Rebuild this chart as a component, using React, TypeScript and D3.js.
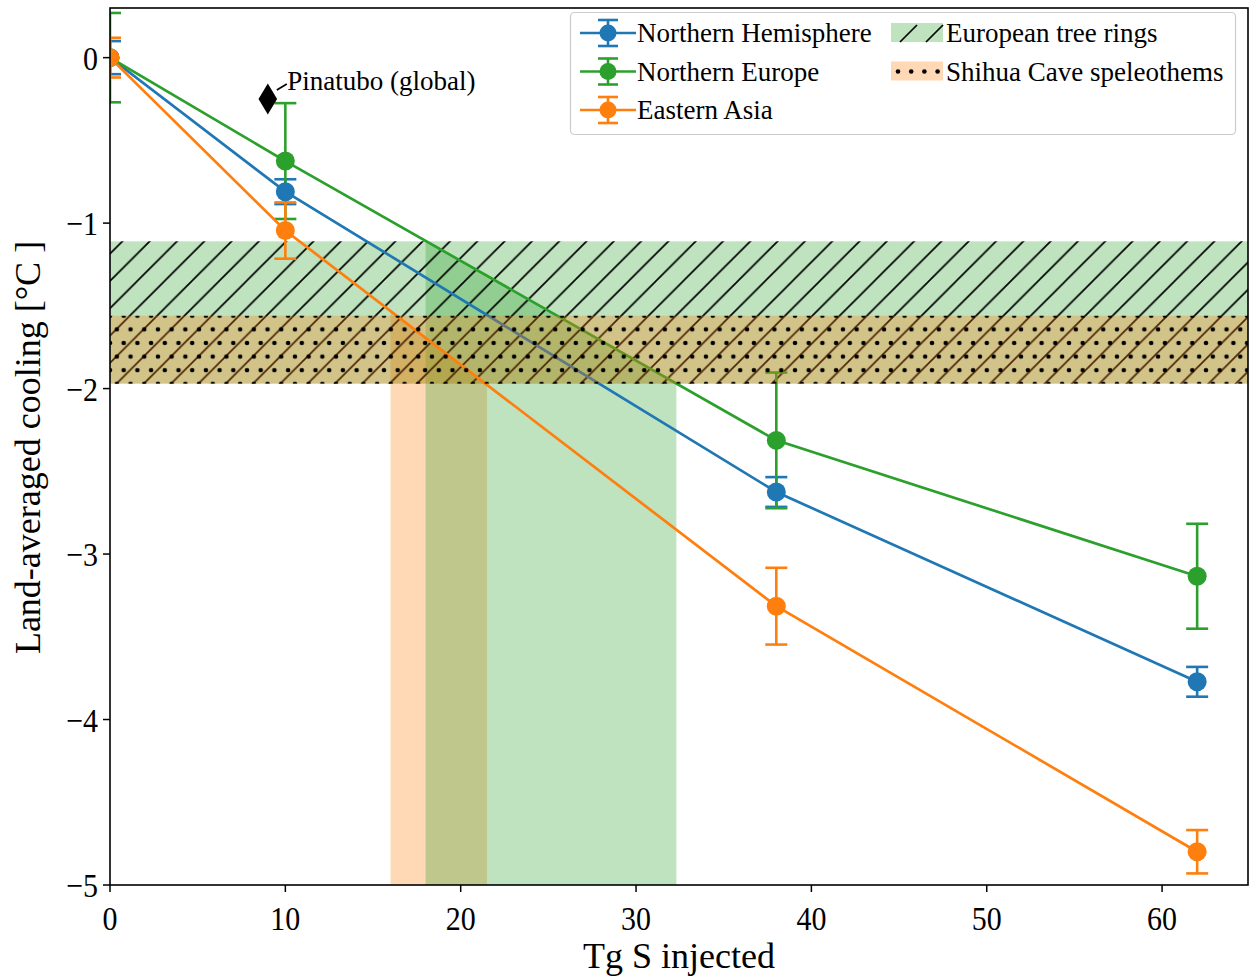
import React from 'react';
import * as d3 from 'd3';

// ---------------- data ----------------
const injectedS = [0, 10, 38, 62];
const nhMean = [0, -0.81, -2.625, -3.772];
const nhErr = [0.1, 0.075, 0.09, 0.09];
const neMean = [0, -0.625, -2.313, -3.134];
const neErr = [0.27, 0.35, 0.41, 0.317];
const eaMean = [0, -1.045, -3.315, -4.799];
const eaErr = [0.12, 0.17, 0.232, 0.131];

const pinatuboX = [9];
const pinatuboY = [-0.25];
const pinatuboLabel = 'Pinatubo (global)';

const treeRingBand = [-1.11, -1.97];
const speleoBand = [-1.56, -1.97];
const neFillRange = [18.0, 32.3];
const eaFillRange = [16.0, 21.5];

const xTicks = [0, 10, 20, 30, 40, 50, 60];
const yTicks = [0, -1, -2, -3, -4, -5];
const xLabel = 'Tg S injected';
const yLabel = 'Land-averaged cooling [°C ]';

const seriesNames = ['Northern Hemisphere', 'Northern Europe', 'Eastern Asia'];
const bandNames = ['European tree rings', 'Shihua Cave speleothems'];

const BLUE = '#1f77b4';
const ORANGE = '#ff7f0e';
const GREEN = '#2ca02c';
const FONT = "'Liberation Serif', 'Times New Roman', Times, serif";

export default function App() {
  const W = 1249;
  const H = 978;
  const L = 110, R = 1248, T = 8, B = 885;
  const x = d3.scaleLinear().domain([0, 64.9]).range([L, R]);
  const y = d3.scaleLinear().domain([-5, 0.3]).range([B, T]);

  const series = [
    { name: seriesNames[0], mean: nhMean, err: nhErr, color: BLUE },
    { name: seriesNames[1], mean: neMean, err: neErr, color: GREEN },
    { name: seriesNames[2], mean: eaMean, err: eaErr, color: ORANGE },
  ];

  const lineGen = d3
    .line<[number, number]>()
    .x((d) => x(d[0]))
    .y((d) => y(d[1]));

  const fillPath = (mean: number[], range: number[]) => {
    const interp = d3.scaleLinear().domain(injectedS).range(mean);
    const xs = [range[0], ...injectedS.filter((v) => v > range[0] && v < range[1]), range[1]];
    const area = d3
      .area<number>()
      .x((v) => x(v))
      .y0(() => y(-5))
      .y1((v) => y(interp(v)));
    return area(xs) || '';
  };

  const capHalf = 11;
  const markerR = 9.5;
  const px = x(pinatuboX[0]);
  const py = y(pinatuboY[0]);

  const legendRows = [33, 71.5, 110];
  const tickStretch = 1.15;

  const fmt = (v: number) => (v < 0 ? '\u2212' + Math.abs(v) : String(v));

  return (
    <svg
      width={W}
      height={H}
      style={{ position: 'absolute', left: 0, top: 0, background: '#fff' }}
      fontFamily={FONT}
    >
      <defs>
        <clipPath id="plotclip">
          <rect x={L} y={T} width={R - L} height={B - T} />
        </clipPath>
        <pattern id="diag" patternUnits="userSpaceOnUse" width={27.3} height={27.3} x={L} y={T}>
          <path
            d="M-6.8,6.8 L6.8,-6.8 M0,27.3 L27.3,0 M20.5,34.1 L34.1,20.5"
            stroke="#000"
            strokeWidth={1.7}
          />
        </pattern>
        <pattern id="dots" patternUnits="userSpaceOnUse" width={13.7} height={27.2} x={L} y={y(speleoBand[0])}>
          <circle cx={0} cy={0} r={2.3} fill="#000" />
          <circle cx={13.7} cy={0} r={2.3} fill="#000" />
          <circle cx={0} cy={27.2} r={2.3} fill="#000" />
          <circle cx={13.7} cy={27.2} r={2.3} fill="#000" />
          <circle cx={6.85} cy={13.6} r={2.3} fill="#000" />
        </pattern>
      </defs>

      <g clipPath="url(#plotclip)">
        {/* vertical fills below lines */}
        <path d={fillPath(eaMean, eaFillRange)} fill={ORANGE} fillOpacity={0.3} />
        <path d={fillPath(neMean, neFillRange)} fill={GREEN} fillOpacity={0.3} />

        {/* European tree rings band */}
        <rect
          x={L}
          width={R - L}
          y={y(treeRingBand[0])}
          height={y(treeRingBand[1]) - y(treeRingBand[0])}
          fill={GREEN}
          fillOpacity={0.3}
        />
        <rect
          x={L}
          width={R - L}
          y={y(treeRingBand[0])}
          height={y(treeRingBand[1]) - y(treeRingBand[0])}
          fill="url(#diag)"
        />

        {/* error bars */}
        {series.map((s) =>
          injectedS.map((xv, i) => {
            const cx = x(xv);
            const y1 = y(s.mean[i] + s.err[i]);
            const y2 = y(s.mean[i] - s.err[i]);
            return (
              <g key={s.name + i} stroke={s.color} strokeWidth={2.6}>
                <line x1={cx} x2={cx} y1={y1} y2={y2} />
                <line x1={cx - capHalf} x2={cx + capHalf} y1={y1} y2={y1} />
                <line x1={cx - capHalf} x2={cx + capHalf} y1={y2} y2={y2} />
              </g>
            );
          })
        )}

        {/* lines */}
        {series.map((s) => (
          <path
            key={s.name + 'line'}
            d={lineGen(injectedS.map((v, i) => [v, s.mean[i]] as [number, number])) || ''}
            fill="none"
            stroke={s.color}
            strokeWidth={2.7}
          />
        ))}

        {/* markers */}
        {series.map((s) =>
          injectedS.map((xv, i) => (
            <circle key={s.name + 'm' + i} cx={x(xv)} cy={y(s.mean[i])} r={markerR} fill={s.color} />
          ))
        )}

        {/* Shihua Cave band on top */}
        <rect
          x={L}
          width={R - L}
          y={y(speleoBand[0])}
          height={y(speleoBand[1]) - y(speleoBand[0])}
          fill={ORANGE}
          fillOpacity={0.3}
        />
        <rect
          x={L}
          width={R - L}
          y={y(speleoBand[0])}
          height={y(speleoBand[1]) - y(speleoBand[0])}
          fill="url(#dots)"
        />
      </g>

      {/* Pinatubo */}
      <path
        d={`M${px},${py - 15.5} L${px + 9.3},${py} L${px},${py + 15.5} L${px - 9.3},${py} Z`}
        fill="#000"
      />
      <line x1={px + 9} y1={py - 9} x2={px + 19} y2={py - 15} stroke="#000" strokeWidth={1.6} />
      <text x={px + 19.5} y={py - 9} fontSize={27} fill="#000">
        {pinatuboLabel}
      </text>

      {/* axes frame */}
      <rect x={L} y={T} width={R - L} height={B - T} fill="none" stroke="#000" strokeWidth={1.6} />

      {/* x ticks */}
      {xTicks.map((t) => (
        <g key={'xt' + t}>
          <line x1={x(t)} x2={x(t)} y1={B} y2={B + 7} stroke="#000" strokeWidth={1.5} />
          <text
            transform={`translate(${x(t)},${B + 45}) scale(1,${tickStretch})`}
            fontSize={30}
            textAnchor="middle"
            fill="#000"
          >
            {fmt(t)}
          </text>
        </g>
      ))}
      {/* y ticks */}
      {yTicks.map((t) => (
        <g key={'yt' + t}>
          <line x1={L - 7} x2={L} y1={y(t)} y2={y(t)} stroke="#000" strokeWidth={1.5} />
          <text
            transform={`translate(${L - 12},${y(t) + 12}) scale(1,${tickStretch})`}
            fontSize={30}
            textAnchor="end"
            fill="#000"
          >
            {fmt(t)}
          </text>
        </g>
      ))}

      {/* axis labels */}
      <text x={(L + R) / 2} y={968} fontSize={36} textAnchor="middle" fill="#000">
        {xLabel}
      </text>
      <text
        transform={`translate(40,${(T + B) / 2 + 1}) rotate(-90)`}
        fontSize={36}
        textAnchor="middle"
        fill="#000"
      >
        {yLabel}
      </text>

      {/* legend */}
      <rect
        x={570.5}
        y={12.5}
        width={665}
        height={122}
        rx={4}
        fill="#fff"
        fillOpacity={0.8}
        stroke="#cccccc"
        strokeWidth={1.2}
      />
      {series.map((s, i) => {
        const cy = legendRows[i];
        return (
          <g key={'leg' + i}>
            <line x1={580} x2={636} y1={cy} y2={cy} stroke={s.color} strokeWidth={2.7} />
            <g stroke={s.color} strokeWidth={2.6}>
              <line x1={608} x2={608} y1={cy - 13} y2={cy + 13} />
              <line x1={598} x2={618} y1={cy - 13} y2={cy - 13} />
              <line x1={598} x2={618} y1={cy + 13} y2={cy + 13} />
            </g>
            <circle cx={608} cy={cy} r={8.5} fill={s.color} />
            <text x={637} y={cy + 9} fontSize={27} fill="#000">
              {s.name}
            </text>
          </g>
        );
      })}
      {/* band legend entries */}
      <g>
        <rect x={891} y={legendRows[0] - 10} width={52} height={19} fill={GREEN} fillOpacity={0.3} />
        <g stroke="#000" strokeWidth={1.7}>
          <line x1={900} y1={legendRows[0] + 9} x2={917} y2={legendRows[0] - 8} />
          <line x1={926} y1={legendRows[0] + 9} x2={943} y2={legendRows[0] - 8} />
        </g>
        <text x={946} y={legendRows[0] + 9} fontSize={27} fill="#000">
          {bandNames[0]}
        </text>
        <rect x={891} y={legendRows[1] - 10} width={52} height={19} fill={ORANGE} fillOpacity={0.3} />
        {[0, 1, 2, 3].map((k) => (
          <circle key={'ld' + k} cx={898 + k * 13.2} cy={legendRows[1]} r={2.3} fill="#000" />
        ))}
        <text x={946} y={legendRows[1] + 9} fontSize={27} fill="#000">
          {bandNames[1]}
        </text>
      </g>
    </svg>
  );
}
